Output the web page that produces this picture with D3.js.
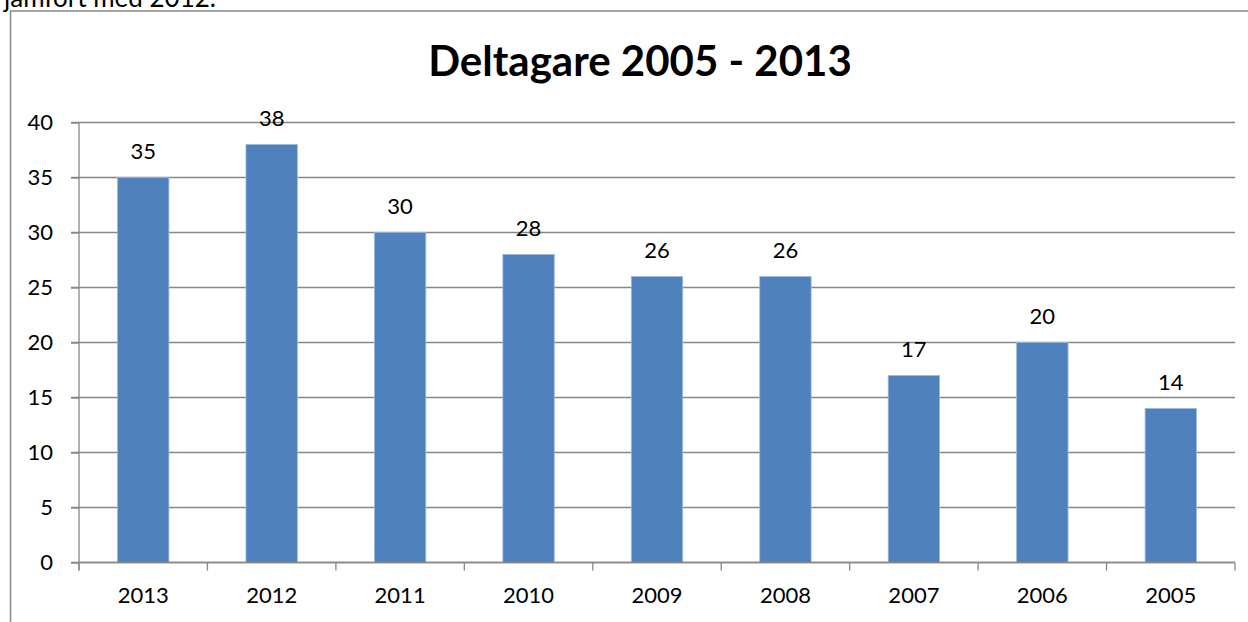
<!DOCTYPE html>
<html>
<head>
<meta charset="utf-8">
<script src="https://cdn.jsdelivr.net/npm/d3@7"></script>
<style>
  body { margin: 0; background: #fff; }
  text { font-family: Lato, "Open Sans", sans-serif; fill: #000; }
</style>
</head>
<body>
<div id="chart"></div>
<script>
//Chart data
var years = ["2013", "2012", "2011", "2010", "2009", "2008", "2007", "2006", "2005"];
var participants = [35, 38, 30, 28, 26, 26, 17, 20, 14];
var yTicks = [0, 5, 10, 15, 20, 25, 30, 35, 40];

var width = 1248, height = 622;
var plotLeft = 79, plotRight = 1235, plotTop = 122.5, plotBottom = 562.5;

var svg = d3.select("#chart")
    .append("svg")
    .attr("width", width)
    .attr("height", height);

//Line of text above the chart frame, cut off at the top
svg.append("text")
    .attr("x", 4)
    .attr("y", 7)
    .attr("font-size", "26px")
    .text("jämfört med 2012.");

//Chart frame
svg.append("rect")
    .attr("x", 10.5)
    .attr("y", 11)
    .attr("width", 1300)
    .attr("height", 700)
    .attr("fill", "none")
    .attr("stroke", "#868686")
    .attr("stroke-width", 1.5);

//Title
svg.append("text")
    .attr("x", 640)
    .attr("y", 76)
    .attr("text-anchor", "middle")
    .attr("font-size", "42px")
    .attr("font-weight", "bold")
    .text("Deltagare 2005 - 2013");

//Scales
var x = d3.scaleBand()
    .domain(years)
    .range([plotLeft, plotRight])
    .paddingInner(0.6)
    .paddingOuter(0.3);

var y = d3.scaleLinear()
    .domain([0, 40])
    .range([plotBottom, plotTop]);

//Gridlines
svg.append("g").selectAll("line")
    .data(yTicks)
    .enter()
    .append("line")
    .attr("x1", plotLeft - 8)
    .attr("x2", plotRight)
    .attr("y1", function (d) { return y(d); })
    .attr("y2", function (d) { return y(d); })
    .attr("stroke", "#878787")
    .attr("stroke-width", 1.3);

//Y axis
var yAxis = svg.append("g")
    .attr("transform", "translate(" + plotLeft + ",0)")
    .call(d3.axisLeft(y).tickValues(yTicks).tickSize(8).tickPadding(18));
yAxis.selectAll("line").attr("stroke", "#878787").attr("stroke-width", 1.3);
yAxis.select(".domain").remove();
yAxis.selectAll("text")
    .attr("font-size", "22px")
    .attr("font-family", "Lato, sans-serif")
    .attr("fill", "#000");

svg.append("line")
    .attr("x1", plotLeft).attr("x2", plotLeft)
    .attr("y1", plotTop).attr("y2", plotBottom + 8)
    .attr("stroke", "#878787")
    .attr("stroke-width", 1.3);

//Bars
svg.append("g").selectAll("rect")
    .data(participants)
    .enter()
    .append("rect")
    .attr("x", function (d, i) { return x(years[i]); })
    .attr("y", function (d) { return y(d); })
    .attr("width", x.bandwidth())
    .attr("height", function (d) { return y(0) - y(d); })
    .attr("fill", "#4F81BD")
    .attr("stroke", "#9BB9DF")
    .attr("stroke-width", 0.8);

//X axis
var xAxis = svg.append("g")
    .attr("transform", "translate(0," + plotBottom + ")")
    .call(d3.axisBottom(x).tickSize(0).tickPadding(25));
xAxis.select(".domain")
    .attr("d", "M" + plotLeft + ",0H" + plotRight)
    .attr("stroke", "#878787")
    .attr("stroke-width", 1.3);
xAxis.selectAll("text")
    .attr("font-size", "22px")
    .attr("font-family", "Lato, sans-serif")
    .attr("fill", "#000");

//Category boundary ticks
svg.append("g").selectAll("line")
    .data(d3.range(years.length + 1))
    .enter()
    .append("line")
    .attr("x1", function (i) { return plotLeft + i * x.step(); })
    .attr("x2", function (i) { return plotLeft + i * x.step(); })
    .attr("y1", plotBottom)
    .attr("y2", plotBottom + 8)
    .attr("stroke", "#878787")
    .attr("stroke-width", 1.3);

//Value labels
svg.append("g").selectAll("text")
    .data(participants)
    .enter()
    .append("text")
    .attr("x", function (d, i) { return x(years[i]) + x.bandwidth() / 2; })
    .attr("y", function (d) { return y(d) - 19; })
    .attr("text-anchor", "middle")
    .attr("font-size", "22px")
    .text(function (d) { return d; });
</script>
</body>
</html>
